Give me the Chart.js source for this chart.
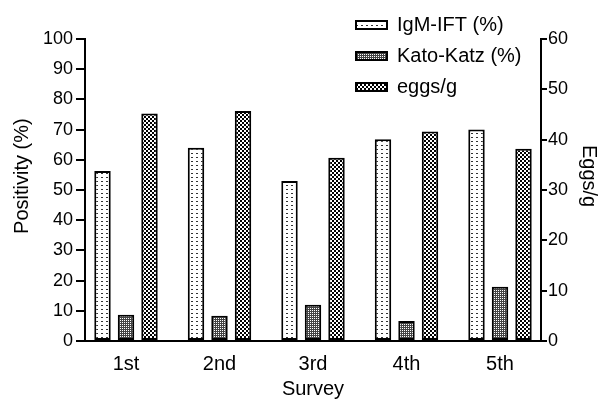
<!DOCTYPE html>
<html>
<head>
<meta charset="utf-8">
<script src="https://cdn.jsdelivr.net/npm/chart.js@4/dist/chart.umd.min.js"></script>
<style>
html,body{margin:0;padding:0;background:#fff;}
#wrap{width:604px;height:399px;}
</style>
</head>
<body>
<div id="wrap"><canvas id="c" width="604" height="399"></canvas></div>
<script>
// ---- data ----
const categories = ['1st', '2nd', '3rd', '4th', '5th'];
const igmIft = [56.3, 64.0, 53.0, 66.8, 70.0];
const katoKatz = [8.7, 8.4, 12.0, 6.6, 18.0];
const eggsPerG = [45.2, 45.7, 36.4, 41.6, 38.2];
const seriesLabels = ['IgM-IFT (%)', 'Kato-Katz (%)', 'eggs/g'];
const leftTicks = [0, 100, 10];   // min, max, step
const rightTicks = [0, 60, 10];

const FONT = "'Liberation Sans', Arial, Helvetica, sans-serif";
const canvas = document.getElementById('c');
const ctx = canvas.getContext('2d');

function makePattern(w, h, draw) {
  const t = document.createElement('canvas');
  t.width = w; t.height = h;
  const g = t.getContext('2d');
  g.fillStyle = '#fff'; g.fillRect(0, 0, w, h);
  draw(g);
  return ctx.createPattern(t, 'repeat');
}
const patDots = makePattern(5, 4, g => { g.fillStyle = '#333'; g.fillRect(1, 1, 2, 1); });
const patGrid = makePattern(2, 2, g => { g.fillStyle = '#444'; g.fillRect(0, 0, 2, 2); g.fillStyle = '#fff'; g.fillRect(0, 0, 1, 1); });
const patCheck = makePattern(4, 4, g => { g.fillStyle = '#000'; g.fillRect(0, 0, 2, 2); g.fillRect(2, 2, 2, 2); });

const toXY = arr => arr.map((v, i) => ({x: i, y: v}));

const legendPos = {
  id: 'legendPos',
  afterLayout(chart) {
    const lg = chart.legend;
    if (!lg) return;
    const w = lg.width;
    lg.left = 345; lg.top = 4;
    lg.right = lg.left + w; lg.bottom = lg.top + 300;
  }
};

new Chart(canvas, {
  type: 'bar',
  data: {
    datasets: [
      {label: seriesLabels[0], data: toXY(igmIft), backgroundColor: patDots, borderColor: '#000', borderWidth: 2, borderSkipped: false, yAxisID: 'y'},
      {label: seriesLabels[1], data: toXY(katoKatz), backgroundColor: patGrid, borderColor: '#000', borderWidth: 2, borderSkipped: false, yAxisID: 'y'},
      {label: seriesLabels[2], data: toXY(eggsPerG), backgroundColor: patCheck, borderColor: '#000', borderWidth: 2, borderSkipped: false, yAxisID: 'y1'}
    ]
  },
  options: {
    responsive: false,
    animation: false,
    devicePixelRatio: 1,
    categoryPercentage: 0.754,
    barPercentage: 0.70,
    layout: {padding: {top: 39, left: 0, right: 0, bottom: 0}},
    plugins: {
      legend: {
        position: 'chartArea',
        align: 'start',
        labels: {boxWidth: 31, boxHeight: 8, padding: 11, color: '#000', font: {family: FONT, size: 20}}
      },
      tooltip: {enabled: false}
    },
    scales: {
      x: {
        type: 'linear',
        offset: false,
        min: -0.4385, max: 4.4385,
        grid: {display: false},
        border: {display: true, color: '#000', width: 2},
        ticks: {color: '#000', padding: 3, autoSkip: false, maxRotation: 0,
          font: {family: FONT, size: 20},
          callback: v => categories[v] ?? ''},
        afterBuildTicks: s => { s.ticks = categories.map((c, i) => ({value: i})); },
        title: {display: true, text: 'Survey', color: '#000', font: {family: FONT, size: 20, lineHeight: 1}, padding: {top: 0, bottom: 0}},
        afterFit: s => { s.height = 58; }
      },
      y: {
        position: 'left',
        min: leftTicks[0], max: leftTicks[1],
        grid: {drawOnChartArea: false, color: '#000', lineWidth: 2, tickLength: 9},
        border: {color: '#000', width: 2},
        ticks: {stepSize: leftTicks[2], color: '#000', padding: 3, font: {family: FONT, size: 18}},
        title: {display: true, text: '     Positivity (%)', color: '#000', font: {family: FONT, size: 20}, padding: {top: 10, bottom: 0}},
        afterFit: s => { s.width = 85; }
      },
      y1: {
        position: 'right',
        min: rightTicks[0], max: rightTicks[1],
        grid: {drawOnChartArea: false, color: '#000', lineWidth: 2, tickLength: 6},
        border: {color: '#000', width: 2},
        ticks: {stepSize: rightTicks[2], color: '#000', padding: 1, font: {family: FONT, size: 18}},
        title: {display: true, text: 'Eggs/g     ', color: '#000', font: {family: FONT, size: 20}, padding: {top: 3, bottom: 0}},
        afterFit: s => { s.width = 63; }
      }
    }
  },
  plugins: [legendPos]
});
</script>
</body>
</html>
